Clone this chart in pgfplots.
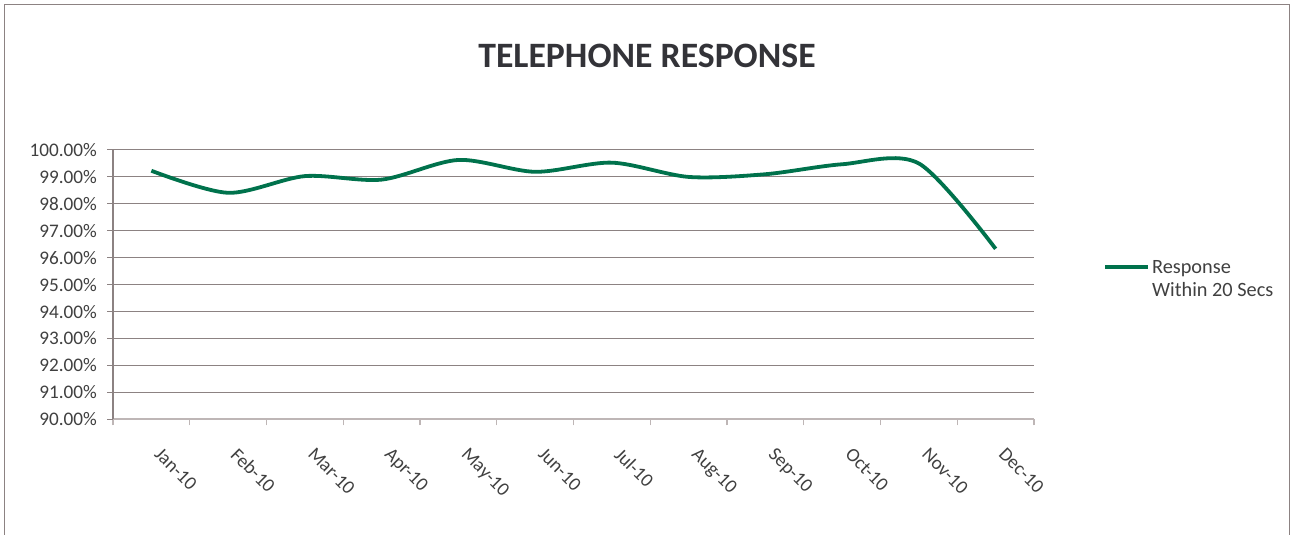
\documentclass[border=0pt]{standalone}
\usepackage{fontspec}
\setmainfont{Carlito}
\usepackage{pgfplots}
\pgfplotsset{compat=1.18}
\definecolor{linegreen}{RGB}{0,114,76}
\definecolor{gridc}{RGB}{140,130,130}
\definecolor{axisc}{RGB}{190,182,182}
\definecolor{txt}{RGB}{64,64,64}
\definecolor{titlec}{RGB}{51,51,56}
\begin{document}
\begin{tikzpicture}
\path[use as bounding box] (0pt,0pt) rectangle (1298pt,535pt);
\draw[gridc, line width=1.3pt] (4.5pt,0pt) -- (4.5pt,530.5pt) -- (1289.5pt,530.5pt) -- (1289.5pt,0pt);
\node[font=\fontsize{35.7}{40}\selectfont\bfseries, text=titlec] at (647pt,479pt) {TELEPHONE RESPONSE};
\begin{axis}[
  at={(113pt,115.7pt)}, anchor=south west,
  scale only axis, width=921pt, height=269.3pt,
  xmin=-0.5, xmax=11.5, ymin=90, ymax=100,
  axis x line*=bottom, axis y line*=left,
  x axis line style={axisc, line width=1.6pt},
  y axis line style={gridc, line width=1.2pt},
  tick align=outside, major tick length=6pt,
  ytick={90,91,...,100},
  ytick style={gridc, line width=1pt},
  ymajorgrids, grid style={gridc, line width=1pt},
  /pgf/number format/assume math mode=true,
  yticklabel={\pgfmathprintnumber[fixed,fixed zerofill,precision=2]{\tick}\%},
  yticklabel style={font=\fontsize{19.2}{21}\selectfont, text=txt, anchor=east, inner sep=0pt, xshift=-10pt},
  xtick={-0.5,0.5,...,11.5}, xticklabels={},
  xtick style={axisc, line width=1.2pt},
  extra x ticks={0,1,...,11},
  extra x tick labels={Jan-10,Feb-10,Mar-10,Apr-10,May-10,Jun-10,Jul-10,Aug-10,Sep-10,Oct-10,Nov-10,Dec-10},
  extra x tick style={major tick length=0pt, grid=none,
    xticklabel style={font=\fontsize{19.2}{21}\selectfont, text=txt, inner sep=0pt, xshift=11pt, yshift=-27pt, rotate=-45, anchor=north west}},
  legend style={draw=none, fill=none, at={(1.075,0.52)}, anchor=west, inner sep=0pt,
    font=\fontsize{20.3}{23.5}\selectfont, text=txt, cells={align=left}},
  legend image code/.code={\draw[#1, line width=3.8pt] (0pt,12pt) -- (43pt,12pt);},
  legend cell align=left,
]
\addplot[linegreen, line width=3.8pt, smooth] coordinates {
(0,99.23) (1,98.41) (2,99.03) (3,98.90) (4,99.63) (5,99.19) (6,99.53) (7,99.00) (8,99.10) (9,99.47) (10,99.50) (11,96.33)};
\addlegendentry{Response\\Within 20 Secs}
\end{axis}
\end{tikzpicture}
\end{document}
